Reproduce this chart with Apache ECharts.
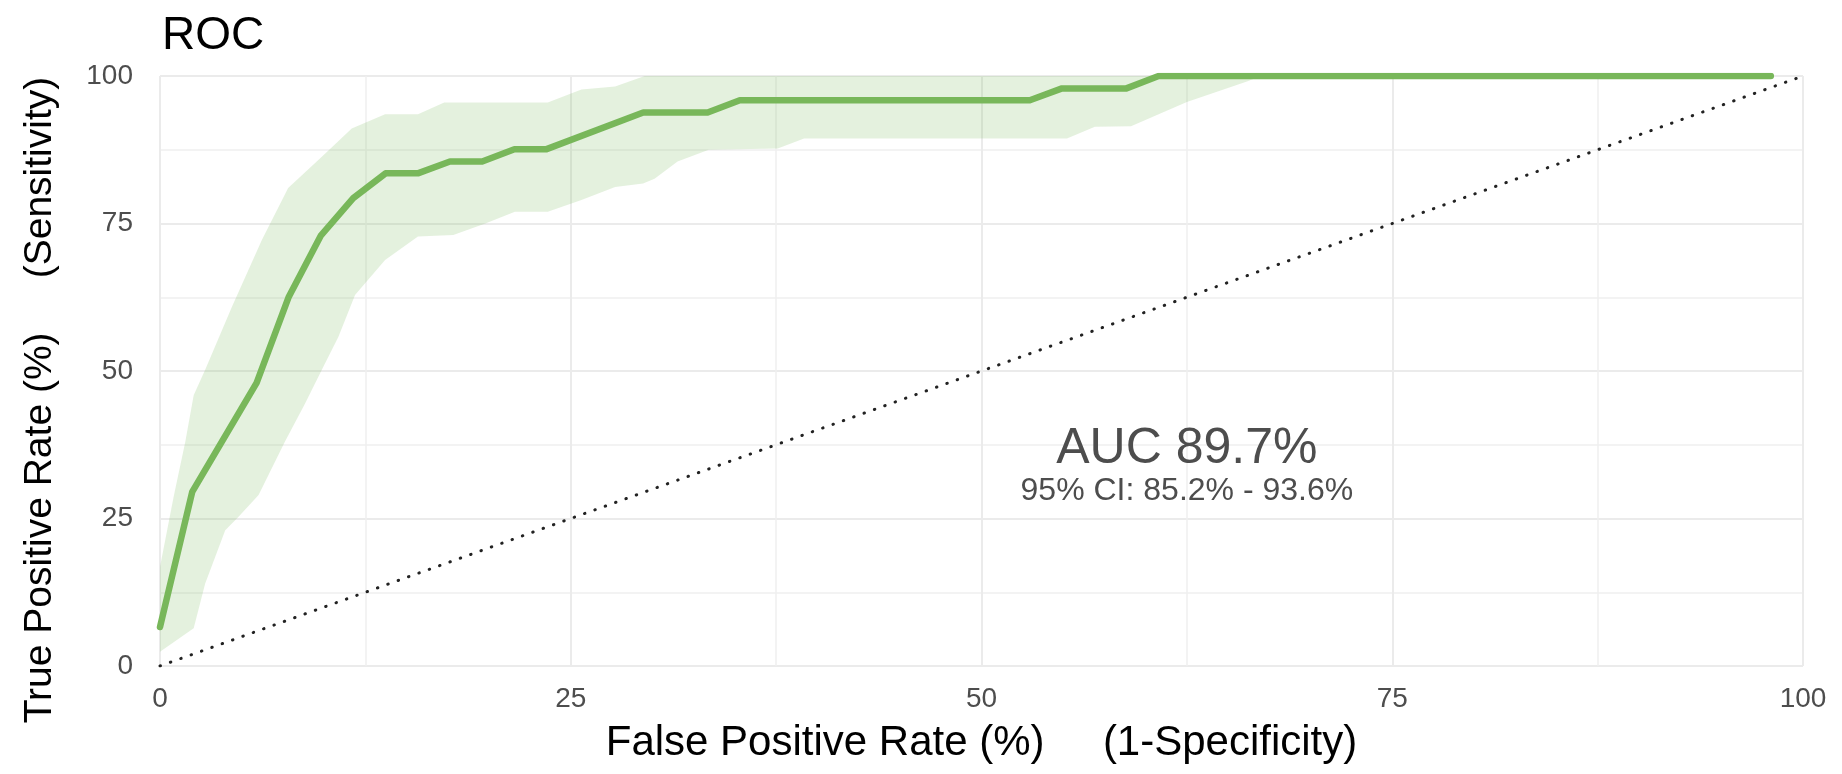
<!DOCTYPE html>
<html>
<head>
<meta charset="utf-8">
<script src="https://cdn.jsdelivr.net/npm/echarts/dist/echarts.min.js"></script>
<style>
  html, body { margin: 0; padding: 0; background: #fff; }
  #main { width: 1842px; height: 774px; }
</style>
</head>
<body>
<div id="main"></div>
<script>
// ROC curve (percent)
const fpr = [0, 1.96, 5.88, 7.84, 9.8, 11.76, 13.73, 15.69, 17.65, 19.61, 21.57, 23.53,
  29.41, 33.33, 35.29, 52.94, 54.9, 58.82, 60.78, 98.04];
const tpr = [6.6, 29.5, 48, 62.6, 73, 79.3, 83.5, 83.5, 85.5, 85.5, 87.6, 87.6,
  93.8, 93.8, 95.9, 95.9, 97.9, 97.9, 100, 100];

// 95% CI band, upper and lower edges
const upperX = [0, 0, 0.83, 1.54, 2.05, 2.75, 4.38, 6.2, 7.8, 9.85, 11.67, 13.7, 15.7,
  17.3, 23.6, 25.65, 27.7, 29.5, 100];
const upperY = [2.4, 16.8, 28.7, 38, 45.9, 50.2, 60.9, 72.2, 81, 86.3, 91.1, 93.5, 93.5,
  95.5, 95.5, 97.7, 98.2, 100, 100];
const lowerX = [0, 2.05, 2.75, 3.97, 4.78, 6.0, 7.6, 8.83, 9.85, 10.86, 11.87, 13.7, 15.7,
  17.85, 19.8, 21.6, 23.6, 25.65, 27.7, 29.4, 30.1, 31.5, 33.4, 37.6, 39.2, 55.2, 56.9,
  59.1, 62.5, 66.2, 67, 100];
const lowerY = [2.4, 6.4, 14, 23, 25.3, 29, 38, 44.5, 50.2, 55.8, 62.9, 68.8, 72.8,
  73.05, 75, 77, 77, 79, 81.2, 81.8, 82.6, 85.5, 87.5, 87.7, 89.4, 89.4, 91.4,
  91.5, 95.6, 99.1, 100, 100];

const axisTicks = [0, 25, 50, 75, 100];
const aucLabel = 'AUC 89.7%';
const ciLabel = '95% CI: 85.2% - 93.6%';

const FONT = '"Liberation Sans", Arial, sans-serif';
const chart = echarts.init(document.getElementById('main'), null, { renderer: 'canvas' });

const bandPoly = [];
upperX.forEach((x, i) => bandPoly.push([x, upperY[i]]));
for (let i = lowerX.length - 1; i >= 0; i--) bandPoly.push([lowerX[i], lowerY[i]]);

const axisCommon = {
  type: 'value',
  min: axisTicks[0],
  max: axisTicks[axisTicks.length - 1],
  interval: 25,
  axisLine: { show: false },
  axisTick: { show: false },
  minorTick: { show: false, splitNumber: 2 },
  splitLine: { show: true, lineStyle: { color: '#ebebeb', width: 2 } },
  minorSplitLine: { show: true, lineStyle: { color: '#f0f0f0', width: 1.5 } },
  axisLabel: { color: '#4d4d4d', fontSize: 28, fontFamily: FONT },
  nameLocation: 'middle',
  nameTextStyle: { color: '#000', fontFamily: FONT }
};

const option = {
  backgroundColor: '#fff',
  animation: false,
  title: {
    text: 'ROC',
    left: 157,
    top: 8,
    textStyle: { color: '#000', fontSize: 46, fontWeight: 'normal', fontFamily: FONT }
  },
  grid: { left: 160, right: 39, top: 76, bottom: 108 },
  xAxis: Object.assign({}, axisCommon, {
    name: 'False Positive Rate (%)     (1-Specificity)',
    nameGap: 56,
    axisLabel: Object.assign({}, axisCommon.axisLabel, { margin: 19 }),
    nameTextStyle: Object.assign({}, axisCommon.nameTextStyle, { fontSize: 42 })
  }),
  yAxis: Object.assign({}, axisCommon, {
    name: 'True Positive Rate (%)     (Sensitivity)',
    nameGap: 100,
    axisLabel: Object.assign({}, axisCommon.axisLabel, { margin: 27 }),
    nameTextStyle: Object.assign({}, axisCommon.nameTextStyle, { fontSize: 39, padding: [0, 58, 0, 0] })
  }),
  series: [
    {
      type: 'custom',
      silent: true,
      z: 1,
      data: [0],
      renderItem: function (params, api) {
        const pts = bandPoly.map(p => api.coord(p));
        return {
          type: 'polygon',
          shape: { points: pts },
          style: { fill: 'rgba(120,183,90,0.2)' }
        };
      }
    },
    {
      type: 'line',
      z: 2,
      data: [[0, 0], [100, 100]],
      showSymbol: false,
      lineStyle: { color: '#222', width: 3, type: [0.5, 10.5], cap: 'round' }
    },
    {
      type: 'line',
      z: 3,
      data: fpr.map((x, i) => [x, tpr[i]]),
      showSymbol: false,
      lineStyle: { color: '#78b75a', width: 6.5, join: 'round', cap: 'round' }
    },
    {
      type: 'scatter',
      z: 4,
      symbolSize: 0,
      silent: true,
      itemStyle: { opacity: 1 },
      label: { show: true, position: 'inside', color: '#4d4d4d', fontFamily: FONT },
      data: [
        { value: [62.5, 36.7], label: { formatter: aucLabel, fontSize: 50 } },
        { value: [62.5, 29.7], label: { formatter: ciLabel, fontSize: 32 } }
      ]
    }
  ]
};

chart.setOption(option);
</script>
</body>
</html>
